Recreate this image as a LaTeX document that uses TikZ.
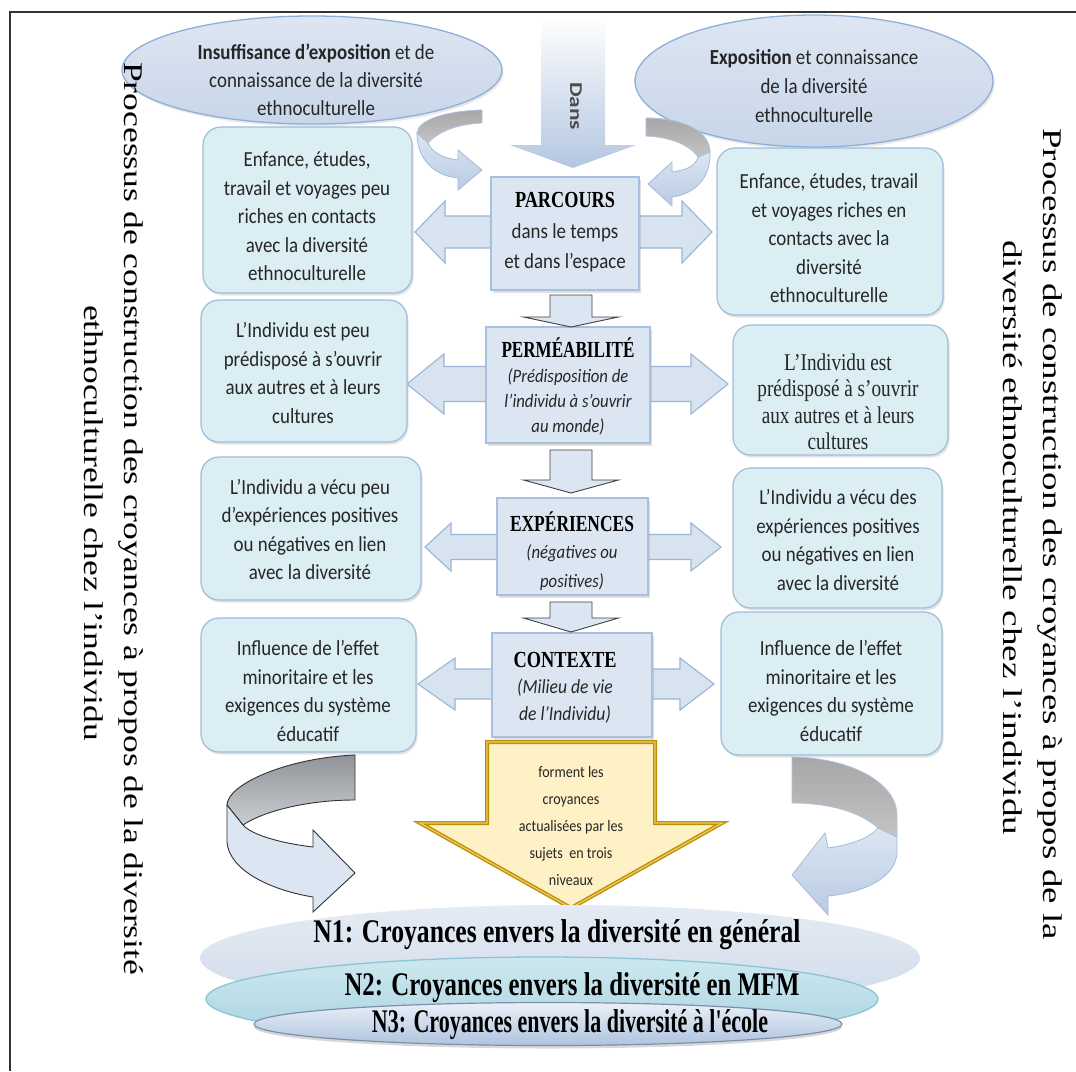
\documentclass[tikz,border=0pt]{standalone}
\usepackage{fontspec}
\usepackage{graphicx}
\setmainfont{Carlito}[FakeStretch=0.88]
\newfontfamily\srffont{Liberation Serif}
\newfontfamily\srfsq{Liberation Serif}[FakeStretch=0.8]
\usetikzlibrary{shapes.geometric,shadows}

\definecolor{sidefill}{HTML}{DAEEF3}
\definecolor{sideline}{HTML}{9FBCD9}
\definecolor{cenfill}{HTML}{DCE6F2}
\definecolor{cenline}{HTML}{A8C0DE}
\definecolor{arrfill}{HTML}{D8E3F0}
\definecolor{arrline}{HTML}{9AB4D6}
\definecolor{elltop}{HTML}{DDE6F2}
\definecolor{ellbot}{HTML}{C8D6E9}
\definecolor{ellline}{HTML}{8EAFD9}
\definecolor{goldline}{HTML}{BF9000}
\definecolor{goldmid}{HTML}{EBCB6E}
\definecolor{goldfill}{HTML}{FFF1C6}
\definecolor{txtc}{HTML}{262626}
\definecolor{grayface}{HTML}{B4B8BE}
\definecolor{grayface2}{HTML}{C4C4C4}
\definecolor{nonetop}{HTML}{E4EBF4}
\definecolor{nonebot}{HTML}{D0DBE9}
\definecolor{ntwotop}{HTML}{CDE8EF}
\definecolor{ntwobot}{HTML}{A9D3E0}
\definecolor{ntwoline}{HTML}{8CC4D6}

\newcommand{\dblarrow}[8][]{%
  \path[#1] (#2,#4) -- ({#2+#5},{#4-#7}) -- ({#2+#5},{#4-#8}) -- ({#3-#6},{#4-#8}) -- ({#3-#6},{#4-#7}) -- (#3,#4) -- ({#3-#6},{#4+#7}) -- ({#3-#6},{#4+#8}) -- ({#2+#5},{#4+#8}) -- ({#2+#5},{#4+#7}) -- cycle;}
\newcommand{\downarr}[7][]{%
  \path[#1] ({#2-#6},#3) -- ({#2+#6},#3) -- ({#2+#6},#4) -- ({#2+#7},#4) -- (#2,#5) -- ({#2-#7},#4) -- ({#2-#6},#4) -- cycle;}

\begin{document}
\begin{tikzpicture}[x=1pt,y=-1pt,
  sidebox/.style={draw=sideline, line width=1.2pt, fill=sidefill, rounded corners=18pt, inner sep=0pt,
    drop shadow={opacity=0.22, shadow xshift=1.5pt, shadow yshift=-2.5pt}},
  cenbox/.style={draw=cenline, line width=1.2pt, fill=cenfill, inner sep=0pt,
    drop shadow={opacity=0.25, shadow xshift=1.5pt, shadow yshift=-2.5pt}},
  topell/.style={ellipse, draw=ellline, line width=1.3pt, top color=elltop, bottom color=ellbot, inner sep=0pt,
    drop shadow={opacity=0.18, shadow xshift=1.5pt, shadow yshift=-2.5pt}},
  body/.style={align=center, inner sep=0pt, text=txtc, font=\fontsize{21.5}{28.5}\selectfont},
  itbody/.style={align=center, inner sep=0pt, text=txtc, font=\itshape\fontsize{19}{25}\selectfont},
  ttl/.style={inner sep=0pt, text=black, font=\srffont\bfseries\fontsize{23}{23}\selectfont},
  ntxt/.style={inner sep=0pt, text=black, font=\srffont\bfseries\fontsize{33}{33}\selectfont},
  vtxt/.style={inner sep=0pt, text=black, font=\srffont\fontsize{27}{27}\selectfont},
  blockarr/.style={fill=arrfill, draw=arrline, line width=1.1pt},
  downsty/.style={fill=cenfill, draw=black!75, line width=0.9pt},
  softgray/.style={top color=grayface2!85!black, bottom color=grayface2, draw=arrline!80, line width=0.8pt},
  softblue/.style={top color=cenfill, bottom color=arrline!70, draw=arrline!90, line width=0.8pt},
  darkgray/.style={top color=grayface!80!black, bottom color=grayface!70!white, draw=black!80, line width=0.9pt},
  darkblue/.style={fill=cenfill, draw=black!80, line width=0.9pt}
]
\useasboundingbox (0,0) rectangle (1076,1071);
\fill[white] (0,0) rectangle (1076,1071);
\draw[line width=1.6pt, black!80] (10,1071) -- (10,12) -- (1076,12);

% top ellipses
\node[topell, minimum width=380pt, minimum height=108pt] (e1) at (312,70) {};
\node[topell, minimum width=358pt, minimum height=132pt] (e2) at (814,81) {};
\node[body, font=\fontsize{21.5}{28}\selectfont] (te1) at (316,80) {\textbf{Insuffisance d’exposition} et de\\connaissance de la diversité\\ethnoculturelle};
\node[body, font=\fontsize{21.5}{29}\selectfont] (te2) at (814,86) {\textbf{Exposition} et connaissance\\de la diversité\\ethnoculturelle};

% Dans arrow
\path[top color=white, bottom color=arrline!75!white] (541,15) -- (605,15) -- (605,145) -- (636,145) -- (573,168) -- (510,145) -- (541,145) -- cycle;
\node[rotate=-90, inner sep=0pt, text=black!70, font=\bfseries\fontsize{18}{18}\selectfont] (dans) at (576,106) {\resizebox{48pt}{\height}{Dans}};

% top curved arrows
\path[softgray] (482,110) .. controls (445,111) and (418,120) .. (417,133) -- (428,143) .. controls (440,130) and (460,124) .. (482,123) -- cycle;
\path[softblue] (417,133) .. controls (417,160) and (435,176) .. (458,178) -- (458,190) -- (482,170) -- (458,150) -- (458,160) .. controls (442,158) and (432,152) .. (428,143) -- cycle;
\path[softgray] (646,118) .. controls (685,118) and (710,132) .. (710,152) -- (698,157) .. controls (690,145) and (670,137) .. (646,136) -- cycle;
\path[softblue] (710,152) .. controls (711,178) and (695,194) .. (672,197) -- (672,206) -- (648,184) -- (672,162) -- (672,172) .. controls (688,170) and (696,165) .. (698,157) -- cycle;

% double arrows
\dblarrow[blockarr]{415}{712}{232}{30}{30}{31}{16}
\dblarrow[blockarr]{407}{728}{384}{37}{37}{30}{17.5}
\dblarrow[blockarr]{425}{721}{547}{26}{30}{24}{12.5}
\dblarrow[blockarr]{418}{714}{684}{37}{34}{26}{15}

% side boxes
\node[sidebox, minimum width=209pt, minimum height=166pt] (l1) at (307.5,210) {};
\node[sidebox, minimum width=206pt, minimum height=142pt] (l2) at (304,371) {};
\node[sidebox, minimum width=220pt, minimum height=143pt] (l3) at (311,528.5) {};
\node[sidebox, minimum width=215pt, minimum height=134pt] (l4) at (308.5,685) {};
\node[sidebox, minimum width=226pt, minimum height=167pt] (r1) at (830,231.5) {};
\node[sidebox, minimum width=215pt, minimum height=130pt] (r2) at (840.5,390) {};
\node[sidebox, minimum width=209pt, minimum height=140pt] (r3) at (837.5,538) {};
\node[sidebox, minimum width=221pt, minimum height=143pt] (r4) at (831.5,683.5) {};

\node[body] (tl1) at (307,216.5) {Enfance, études,\\travail et voyages peu\\riches en contacts\\avec la diversité\\ethnoculturelle};
\node[body] (tr1) at (829,238.5) {Enfance, études, travail\\et voyages riches en\\contacts avec la\\diversité\\ethnoculturelle};
\node[body] (tl2) at (303,373) {L’Individu est peu\\prédisposé à s’ouvrir\\aux autres et à leurs\\cultures};
\node[body, font=\srfsq\fontsize{24}{26.5}\selectfont] (tr2) at (838,402) {L’Individu est\\prédisposé à s’ouvrir\\aux autres et à leurs\\cultures};
\node[body] (tl3) at (310,529.5) {L’Individu a vécu peu\\d’expériences positives\\ou négatives en lien\\avec la diversité};
\node[body] (tr3) at (838,540) {L’Individu a vécu des\\expériences positives\\ou négatives en lien\\avec la diversité};
\node[body] (tl4) at (308,691) {Influence de l’effet\\minoritaire et les\\exigences du système\\éducatif};
\node[body] (tr4) at (831,691) {Influence de l’effet\\minoritaire et les\\exigences du système\\éducatif};

% center boxes
\node[cenbox, minimum width=148pt, minimum height=113pt] (parcours) at (565,233.5) {};
\node[cenbox, minimum width=164pt, minimum height=116pt] (perm) at (568,385) {};
\node[cenbox, minimum width=151pt, minimum height=97pt] (expe) at (572.5,546.5) {};
\node[cenbox, minimum width=160pt, minimum height=104pt] (ctx) at (572,685) {};

\node[ttl] (tparc) at (565,200) {\resizebox{100pt}{\height}{PARCOURS}};
\node[body, font=\fontsize{21.5}{30}\selectfont] (tparc2) at (565,248) {dans le temps\\et dans l’espace};
\node[ttl] (tperm) at (568,348) {\resizebox{133pt}{\height}{PERMÉABILITÉ}};
\node[itbody] (tperm2) at (568,402) {(Prédisposition de\\l’individu à s’ouvrir\\au monde)};
\node[ttl] (texp) at (572,522) {\resizebox{124pt}{\height}{EXPÉRIENCES}};
\node[itbody, font=\itshape\fontsize{19}{29.5}\selectfont] (texp2) at (572,567.5) {(négatives ou\\positives)};
\node[ttl] (tctx) at (565,660) {\resizebox{103pt}{\height}{CONTEXTE}};
\node[itbody, font=\itshape\fontsize{20}{27}\selectfont] (tctx2) at (565,701.5) {(Milieu de vie\\de l’Individu)};

% small down arrows
\downarr[downsty]{571}{295}{317}{327}{21}{47.5}
\downarr[downsty]{571}{450}{480}{493}{21}{47.5}
\downarr[downsty]{571}{602}{618}{632}{21}{47.5}

% yellow arrow
\path[fill=goldfill, draw=goldline, double=goldmid, double distance=1.2pt, line width=1.4pt, line join=miter]
  (487,742) -- (655,742) -- (655,823) -- (722,823) -- (571,908) -- (420,823) -- (487,823) -- cycle;
\node[body, font=\fontsize{16}{27}\selectfont] (tyel) at (571,826) {forment les\\croyances\\actualisées par les\\sujets \ en trois\\niveaux};

% bottom curved arrows
\path[darkgray] (355,755) .. controls (285,758) and (227,785) .. (227,805) -- (243,825) .. controls (262,812) and (305,800) .. (355,800) -- cycle;
\path[darkblue] (227,805) -- (227,842) .. controls (229,870) and (270,890) .. (313,897) -- (313,912) -- (355,873) -- (313,830) -- (313,847) .. controls (280,843) and (252,835) .. (243,825) -- cycle;
\path[softgray] (792,757) .. controls (855,758) and (897,785) .. (897,815) -- (897,837) -- (878,828) .. controls (860,812) and (830,803) .. (792,803) -- cycle;
\path[softblue] (897,837) -- (897,853) .. controls (895,880) and (860,893) .. (828,896) -- (828,915) -- (792,875) -- (825,833) -- (828,848) .. controls (850,845) and (870,838) .. (878,828) -- cycle;

% bottom ellipses
\node[ellipse, minimum width=720pt, minimum height=106pt, inner sep=0pt, top color=nonetop, bottom color=nonebot] (n1) at (560,958) {};
\node[ellipse, minimum width=672pt, minimum height=84pt, inner sep=0pt, top color=ntwotop, bottom color=ntwobot, draw=ntwoline, line width=1.3pt] (n2) at (542,999) {};
\node[ellipse, minimum width=588pt, minimum height=43pt, inner sep=0pt, top color=cenfill!60!white, bottom color=arrline!80, draw=arrline!80!black, line width=1.2pt,
  drop shadow={opacity=0.3, shadow xshift=0pt, shadow yshift=-3pt}] (n3) at (548,1024) {};
\node[ntxt] (tn1) at (557,935) {\resizebox{487pt}{\height}{N1: Croyances envers la diversité en général}};
\node[ntxt] (tn2) at (572,988) {\resizebox{455pt}{\height}{N2: Croyances envers la diversité en MFM}};
\node[ntxt] (tn3) at (570,1025) {\resizebox{396pt}{\height}{N3: Croyances envers la diversité à l'école}};

% vertical side texts
\node[vtxt, rotate=-90, anchor=west] (lv1) at (131,62) {\resizebox{913pt}{\height}{Processus de construction des croyances à propos de la diversité}};
\node[vtxt, rotate=-90, anchor=west] (lv2) at (94,305) {\resizebox{436pt}{\height}{ethnoculturelle chez l’individu}};
\node[vtxt, rotate=-90, anchor=west] (rv1) at (1050,128) {\resizebox{812pt}{\height}{Processus de construction des croyances à propos de la}};
\node[vtxt, rotate=-90, anchor=west] (rv2) at (1013,240) {\resizebox{595pt}{\height}{diversité ethnoculturelle chez l’individu}};
\end{tikzpicture}
\end{document}
